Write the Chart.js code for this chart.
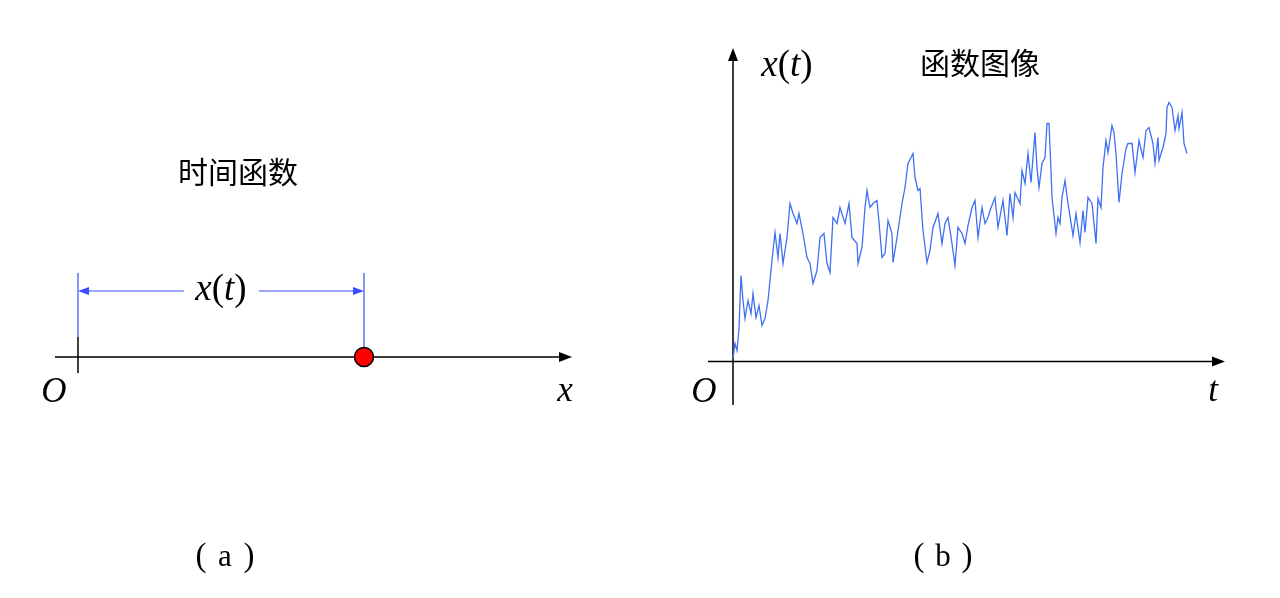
<!DOCTYPE html>
<html>
<head>
<meta charset="utf-8">
<script src="https://cdn.jsdelivr.net/npm/chart.js@4"></script>
<style>
  html, body { margin: 0; padding: 0; background: #fff; }
  .panel { position: absolute; top: 0; width: 640px; height: 598px; }
  #left { left: 0; }
  #right { left: 640px; }
</style>
</head>
<body>
<div class="panel" id="left"><canvas id="chartA" width="640" height="598"></canvas></div>
<div class="panel" id="right"><canvas id="chartB" width="640" height="598"></canvas></div>
<script>
// (a) position on the line
const pointPos = [28.6];
const labelA = "时间函数";
const captionA = "a";

// (b) sample path x(t)
const tVals = [
  0, 0.2, 0.4, 0.6, 0.8, 1.0, 1.2, 1.5, 1.8, 2.0, 2.3, 2.6, 2.9, 3.2, 3.5, 3.7, 3.9,
  4.2, 4.5, 4.7, 5.0, 5.4, 5.7, 6.0, 6.4, 6.6, 7.0, 7.4, 7.7, 8.0, 8.4, 8.7, 9.1,
  9.4, 9.7, 10.0, 10.4, 10.7, 11.2, 11.6, 11.9, 12.4, 12.5, 12.9, 13.2, 13.4, 13.7,
  14.0, 14.4, 14.7, 14.9, 15.2, 15.5, 15.9, 16.0, 16.4, 16.9, 17.2, 17.5, 18.0, 18.2,
  18.5, 18.7, 19.0, 19.4, 19.7, 20.0, 20.5, 20.9, 21.2, 21.5, 21.9, 22.2, 22.5, 22.9,
  23.2, 23.5, 23.9, 24.2, 24.5, 24.9, 25.2, 25.5, 25.7, 26.2, 26.5, 27.0, 27.4, 27.7,
  28.0, 28.2, 28.7, 28.9, 29.2, 29.5, 29.8, 30.2, 30.4, 30.6, 30.9, 31.2, 31.4, 31.6,
  31.8, 31.9, 32.3, 32.5, 32.7, 32.9, 33.2, 33.5, 34.0, 34.3, 34.7, 35.0, 35.2, 35.5,
  35.9, 36.3, 36.5, 36.8, 37.0, 37.3, 37.5, 37.9, 38.1, 38.3, 38.6, 38.9, 39.0, 39.3,
  39.5, 39.9, 40.2, 40.6, 41.0, 41.3, 41.6, 42.0, 42.2, 42.5, 42.6, 43.0, 43.3, 43.4,
  43.6, 43.9, 44.2, 44.5, 44.6, 44.9, 45.1, 45.4
];
const xVals = [
  0.3, 1.8, 1.1, 3.3, 8.6, 6.1, 4.3, 6.1, 4.8, 6.8, 4.4, 5.6, 3.6, 4.3, 6.1, 8.1, 10.1,
  12.9, 10.4, 12.8, 9.8, 12.4, 15.8, 14.8, 13.8, 14.8, 12.8, 10.4, 9.8, 7.8, 9.1, 12.4, 12.8,
  9.8, 8.9, 14.4, 13.8, 15.4, 13.8, 15.8, 12.4, 11.8, 9.8, 11.4, 15.4, 17.1, 15.4,
  15.8, 16.1, 12.8, 10.4, 10.8, 14.1, 12.8, 9.9, 12.4, 15.8, 17.4, 19.8, 20.8, 18.4,
  17.1, 17.3, 13.1, 9.9, 11.1, 13.4, 14.8, 11.8, 13.8, 14.4, 11.8, 9.6, 13.4, 12.8,
  11.8, 13.6, 15.4, 16.1, 12.4, 15.4, 13.8, 14.4, 15.1, 16.4, 13.4, 16.1, 12.6, 16.8,
  14.4, 16.9, 15.8, 19.1, 17.8, 20.8, 17.9, 22.9, 19.4, 17.4, 19.8, 20.4, 23.8, 23.8,
  19.1, 16.4, 12.8, 14.4, 13.8, 16.4, 18.1, 15.8, 12.6, 14.8, 11.9, 15.1, 12.9, 16.4,
  15.8, 11.8, 16.3, 15.4, 19.4, 22.1, 20.9, 23.6, 22.9, 20.8, 15.9, 18.8, 19.4, 21.3,
  21.8, 21.8, 18.9, 22.1, 20.4, 23.1, 23.4, 21.8, 19.8, 22.4, 20.1, 21.4, 22.8, 25.4,
  25.9, 25.4, 23.1, 24.6, 23.3, 24.9, 21.8, 20.8
];
const labelB = "函数图像";
const captionB = "b";

const serif = '"Liberation Serif", "Times New Roman", serif';
const cjk = '"Noto Sans CJK SC", sans-serif';

function arrowRight(ctx, x, y) {
  ctx.beginPath();
  ctx.moveTo(x, y);
  ctx.lineTo(x - 13, y - 5);
  ctx.lineTo(x - 13, y + 5);
  ctx.closePath();
  ctx.fill();
}
function arrowLeft(ctx, x, y) {
  ctx.beginPath();
  ctx.moveTo(x, y);
  ctx.lineTo(x + 11, y - 4);
  ctx.lineTo(x + 11, y + 4);
  ctx.closePath();
  ctx.fill();
}
function arrowUp(ctx, x, y) {
  ctx.beginPath();
  ctx.moveTo(x, y);
  ctx.lineTo(x - 5, y + 13);
  ctx.lineTo(x + 5, y + 13);
  ctx.closePath();
  ctx.fill();
}

// draws pieces [text, font] side by side, centred on cx
function drawRun(ctx, parts, cx, cy) {
  let total = 0;
  parts.forEach(p => { ctx.font = p[1]; total += ctx.measureText(p[0]).width; });
  let x = cx - total / 2;
  ctx.textAlign = "left";
  ctx.textBaseline = "middle";
  parts.forEach(p => {
    ctx.font = p[1];
    ctx.fillText(p[0], x, cy);
    x += ctx.measureText(p[0]).width;
  });
}

// x(t) with italic letters and upright brackets
function drawXt(ctx, cx, cy, size) {
  const it = "italic " + size + "px " + serif, up = size + "px " + serif;
  drawRun(ctx, [["x", it], ["(", up], ["t", it], [")", up]], cx, cy);
}

function text(ctx, s, x, y, font) {
  ctx.font = font;
  ctx.textAlign = "center";
  ctx.textBaseline = "middle";
  ctx.fillText(s, x, y);
}

// full-width style caption （a）
function drawCaption(ctx, s, cx, cy) {
  text(ctx, "(", cx - 24, cy, "33px " + serif);
  text(ctx, s, cx, cy + 1, "31px " + serif);
  text(ctx, ")", cx + 24, cy, "33px " + serif);
}

const hidden = { display: false };

// ---- (a) ----
const decoA = {
  id: "decoA",
  beforeDatasetsDraw(chart) {
    const ctx = chart.ctx;
    const xs = chart.scales.x, ys = chart.scales.y;
    const y0 = ys.getPixelForValue(0);
    const o = xs.getPixelForValue(0);
    const p = xs.getPixelForValue(pointPos[0]);
    ctx.save();
    ctx.fillStyle = "#000";
    ctx.strokeStyle = "#000";
    ctx.lineWidth = 1.5;
    ctx.beginPath();
    ctx.moveTo(chart.chartArea.left, y0);
    ctx.lineTo(chart.chartArea.right - 8, y0);
    ctx.moveTo(o, y0 - 20);
    ctx.lineTo(o, y0 + 16);
    ctx.stroke();
    arrowRight(ctx, chart.chartArea.right, y0);

    // blue bracket
    ctx.strokeStyle = "#3a4dff";
    ctx.fillStyle = "#3a4dff";
    ctx.lineWidth = 1.2;
    ctx.beginPath();
    ctx.moveTo(o, y0 - 84);
    ctx.lineTo(o, y0 - 20);
    ctx.moveTo(p, y0 - 84);
    ctx.lineTo(p, y0 - 9);
    ctx.moveTo(o + 8, y0 - 66);
    ctx.lineTo(184, y0 - 66);
    ctx.moveTo(259, y0 - 66);
    ctx.lineTo(p - 8, y0 - 66);
    ctx.stroke();
    arrowLeft(ctx, o, y0 - 66);
    ctx.save();
    ctx.translate(p, y0 - 66);
    ctx.scale(-1, 1);
    arrowLeft(ctx, 0, 0);
    ctx.restore();

    ctx.fillStyle = "#000";
    drawXt(ctx, 221, y0 - 67, 37);
    text(ctx, "O", o - 24, y0 + 36, "italic 35px " + serif);
    text(ctx, "x", 565, y0 + 35, "italic 35px " + serif);
    text(ctx, labelA, 238, 172, "30px " + cjk);
    drawCaption(ctx, captionA, 225, 557);
    ctx.restore();
  }
};

new Chart(document.getElementById("chartA"), {
  type: "scatter",
  data: {
    datasets: [{
      data: pointPos.map(v => ({ x: v, y: 0 })),
      pointRadius: 9.5,
      pointBackgroundColor: "#ff0000",
      pointBorderColor: "#000",
      pointBorderWidth: 1.5,
      clip: false
    }]
  },
  options: {
    responsive: false,
    animation: false,
    layout: { padding: { left: 55, right: 68, top: 337, bottom: 221 } },
    plugins: { legend: hidden, tooltip: { enabled: false } },
    scales: {
      x: { type: "linear", min: -2.3, max: 49.4, display: false },
      y: { type: "linear", min: -1, max: 1, display: false }
    }
  },
  plugins: [decoA]
});

// ---- (b) ----
const decoB = {
  id: "decoB",
  beforeDatasetsDraw(chart) {
    const ctx = chart.ctx;
    const a = chart.chartArea;
    const xs = chart.scales.x, ys = chart.scales.y;
    const x0 = xs.getPixelForValue(0);
    const y0 = ys.getPixelForValue(0);
    ctx.save();
    ctx.fillStyle = "#000";
    ctx.strokeStyle = "#000";
    ctx.lineWidth = 1.5;
    ctx.beginPath();
    ctx.moveTo(a.left, y0);
    ctx.lineTo(a.right - 8, y0);
    ctx.moveTo(x0, a.bottom);
    ctx.lineTo(x0, a.top + 8);
    ctx.stroke();
    arrowRight(ctx, a.right, y0);
    arrowUp(ctx, x0, a.top);

    drawXt(ctx, x0 + 54, 66, 37);
    text(ctx, labelB, 340, 63, "30px " + cjk);
    text(ctx, "O", x0 - 29, y0 + 31, "italic 35px " + serif);
    text(ctx, "t", 1213 - 640, y0 + 30, "italic 35px " + serif);
    drawCaption(ctx, captionB, 943 - 640, 557);
    ctx.restore();
  }
};

new Chart(document.getElementById("chartB"), {
  type: "scatter",
  data: {
    datasets: [{
      data: tVals.map((t, i) => ({ x: t, y: xVals[i] })),
      showLine: true,
      borderColor: "#3f6ff2",
      borderWidth: 1.3,
      pointRadius: 0,
      tension: 0,
      clip: false
    }]
  },
  options: {
    responsive: false,
    animation: false,
    layout: { padding: { left: 68, right: 55, top: 48, bottom: 193 } },
    plugins: { legend: hidden, tooltip: { enabled: false } },
    scales: {
      x: { type: "linear", min: -2.5, max: 49.2, display: false },
      y: { type: "linear", min: -4.35, max: 31.35, display: false }
    }
  },
  plugins: [decoB]
});
</script>
</body>
</html>
